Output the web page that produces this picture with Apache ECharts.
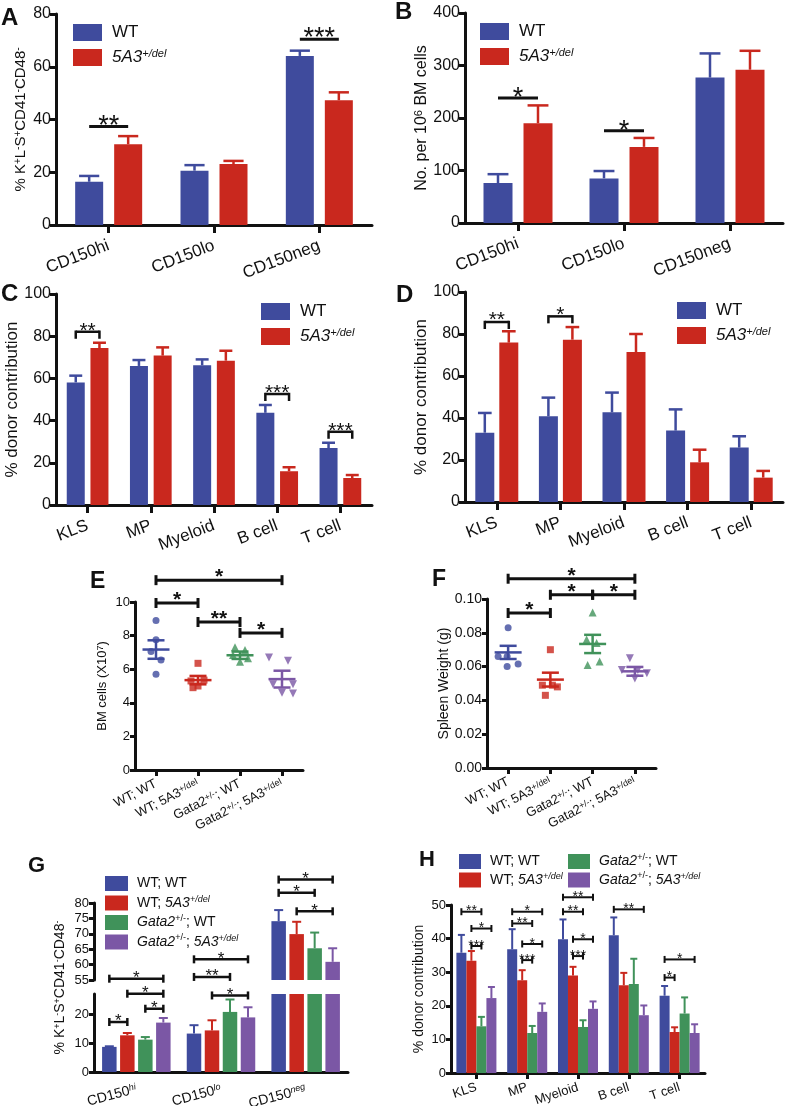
<!DOCTYPE html>
<html><head><meta charset="utf-8">
<script src="https://cdn.jsdelivr.net/npm/echarts@6/dist/echarts.min.js"></script>
<style>html,body{margin:0;padding:0;background:#fff}#c{width:787px;height:1106px}</style>
</head><body><div id="c"></div>
<script>
// ================= DATA =================
const catsAB = ['CD150hi', 'CD150lo', 'CD150neg'];
const aWT = [16.4, 20.6, 64.1];
const aWTsem = [2.2, 2.1, 2.0];
const aMut = [30.6, 23.1, 47.3];
const aMutSem = [3.1, 1.2, 3.0];
const aSig = [[0, 0, 0, 1, 37.3, '**'], [2, 0, 2, 1, 70.4, '***']];

const bWT = [76, 85, 277];
const bWTsem = [17, 14, 46];
const bMut = [190, 145, 292];
const bMutSem = [34, 17, 36];
const bSig = [[0, 0, 0, 1, 238, '*'], [1, 0, 1, 1, 175.7, '*']];

const catsCD = ['KLS', 'MP', 'Myeloid', 'B cell', 'T cell'];
const cWT = [58.1, 65.9, 66.2, 43.7, 27.0];
const cWTsem = [3.2, 2.8, 2.8, 3.7, 2.5];
const cMut = [74.4, 70.8, 68.4, 16.0, 12.8];
const cMutSem = [2.5, 3.9, 4.7, 1.9, 1.4];
const cSig = [[0, 0, 0, 1, 82.1, '**'], [3, 0, 3, 1, 52.6, '***'], [4, 0, 4, 1, 34.7, '***']];

const dWT = [33.0, 40.8, 42.7, 34.0, 25.9];
const dWTsem = [9.4, 8.9, 9.4, 10.1, 5.4];
const dMut = [75.9, 77.3, 71.4, 18.9, 11.6];
const dMutSem = [5.4, 6.0, 8.6, 6.0, 3.2];
const dSig = [[0, 0, 0, 1, 85.7, '**'], [1, 0, 1, 1, 88.4, '*']];

const catsEF = ['WT; WT', 'WT; 5A3+/del', 'Gata2+/-; WT', 'Gata2+/-; 5A3+/del'];
const ePts = [[8.9, 7.75, 7.05, 6.55, 5.7], [6.35, 5.3, 5.35, 5.0, 4.9], [7.3, 7.15, 6.85, 6.65, 6.45], [6.7, 6.5, 5.1, 5.1, 4.6, 4.55]];
const eMean = [7.17, 5.35, 6.83, 5.41];
const eSem = [0.55, 0.25, 0.22, 0.5];
const eSig = [[0, null, 3, null, 11.3, '*'], [0, null, 1, null, 9.94, '*'], [1, null, 2, null, 8.81, '**'], [2, null, 3, null, 8.16, '*']];

const fPts = [[0.083, 0.066, 0.066, 0.060, 0.0615], [0.070, 0.049, 0.049, 0.048, 0.043], [0.092, 0.076, 0.074, 0.061, 0.063], [0.065, 0.058, 0.058, 0.056, 0.053]];
const fMean = [0.0684, 0.0523, 0.0734, 0.0572];
const fSem = [0.0039, 0.0041, 0.0054, 0.0026];
const fSig = [[0, null, 3, null, 0.112, '*'], [0, null, 1, null, 0.0917, '*'], [1, null, 2, null, 0.1025, '*'], [2, null, 3, null, 0.1025, '*']];

const catsG = ['CD150hi', 'CD150lo', 'CD150neg'];
const gWTWT = [8.7, 13.3, 74.1];
const gWTWTsem = [0.2, 2.9, 3.6];
const gWTMut = [12.7, 14.4, 69.9];
const gWTMutSem = [0.8, 3.5, 4.0];
const gGataWT = [11.2, 20.8, 65.3];
const gGataWTsem = [0.9, 4.3, 5.1];
const gGataMut = [17.1, 18.9, 60.9];
const gGataMutSem = [1.6, 3.5, 4.4];
const gSigLow = [[0, 0, 0, 1, 17.3, '*'], [0, 2, 0, 3, 21.9, '*'], [0, 1, 0, 3, 27.1, '*'], [0, 0, 0, 3, 32.3, '*'],
                 [1, 0, 1, 3, 39.0, '*'], [1, 0, 1, 2, 32.9, '**'], [1, 1, 1, 3, 26.5, '*']];
const gSigHigh = [[2, 0, 2, 3, 87.6, '*'], [2, 0, 2, 2, 83.3, '*'], [2, 1, 2, 3, 77.3, '*']];

const catsH = ['KLS', 'MP', 'Myeloid', 'B cell', 'T cell'];
const hWTWT = [35.8, 36.8, 39.8, 41.0, 23.0];
const hWTWTsem = [5.3, 6.0, 5.9, 5.3, 2.9];
const hWTMut = [33.4, 27.6, 29.0, 26.1, 12.2];
const hWTMutSem = [2.9, 3.0, 2.6, 3.7, 1.4];
const hGataWT = [13.9, 11.9, 13.7, 26.5, 17.7];
const hGataWTsem = [2.8, 2.1, 2.0, 7.5, 4.8];
const hGataMut = [22.3, 18.2, 19.1, 17.2, 11.9];
const hGataMutSem = [3.3, 2.5, 2.2, 2.9, 2.6];
const hSig = [[0, 0, 0, 2, 48.0, '**'], [0, 1, 0, 3, 43.0, '*'], [0, 1, 0, 2, 37.8, '***'],
              [1, 0, 1, 3, 48.0, '*'], [1, 0, 1, 2, 44.5, '**'], [1, 1, 1, 3, 38.4, '*'], [1, 1, 1, 2, 33.6, '***'],
              [2, 0, 2, 3, 52.3, '**'], [2, 0, 2, 2, 48.0, '**'], [2, 1, 2, 3, 39.8, '*'], [2, 1, 2, 2, 34.8, '***'],
              [3, 0, 3, 3, 48.7, '**'],
              [4, 0, 4, 3, 33.8, '*'], [4, 0, 4, 1, 28.4, '*']];

// ================= STYLE (not data) =================
const ePtsJitter = [[0, 0, -5, 5, 0], [0, -7, 6, 0, -5], [-5, 5, -7, 8, 0], [-13, 6, -9, 11, 0, 11]];
const fPtsJitter = [[0, -10, -1, -1, 10], [0, -8, 2, 7, -5], [0, -6, 4, -5, 7], [-5, -13, 3, 12, 0]];

const FONT = '"Liberation Sans", Arial, Helvetica, sans-serif';
const INK = '#111111';
const BLUE = '#3f4b9d', RED = '#c9281e', GREEN = '#40925a', PURPLE = '#7b57a5';

function rich(fs) {
  const ss = Math.round(fs * 0.66);
  return {
    i: { fontStyle: 'italic', fontSize: fs, fontFamily: FONT, color: INK },
    s: { fontSize: ss, fontFamily: FONT, color: INK, verticalAlign: 'top' },
    si: { fontStyle: 'italic', fontSize: ss, fontFamily: FONT, color: INK, verticalAlign: 'top' }
  };
}

const grid = [], xAxis = [], yAxis = [], series = [], legend = [], graphic = [];

function addPanel(g, x, y) {
  grid.push(Object.assign({ containLabel: false, outerBoundsMode: 'none' }, g));
  const gi = grid.length - 1;
  xAxis.push(Object.assign({ gridIndex: gi }, x));
  yAxis.push(Object.assign({ gridIndex: gi }, y));
  return gi;
}
function xCat(cats, o) {
  const lw = o.lw == null ? 3 : o.lw;
  return {
    type: 'category', data: cats, boundaryGap: true, show: o.show !== false,
    axisLine: { show: true, onZero: false, lineStyle: { color: INK, width: lw } },
    axisTick: { show: o.tick !== false, alignWithLabel: true, inside: false, length: o.tl || 7, lineStyle: { color: INK, width: lw } },
    axisLabel: { show: o.label !== false, interval: 0, rotate: o.rot || 0, margin: o.margin || 8, color: INK,
      fontFamily: FONT, fontSize: o.fs || 16, formatter: o.fmt, rich: o.rich },
    splitLine: { show: false }, splitArea: { show: false }
  };
}
function yVal(o) {
  const lw = o.lw == null ? 3 : o.lw;
  const ax = {
    type: 'value', min: o.min, max: o.max, interval: o.iv,
    axisLine: { show: o.line !== false, onZero: false, lineStyle: { color: INK, width: lw } },
    axisTick: { show: o.tick !== false, length: o.tl || 6, lineStyle: { color: INK, width: lw } },
    axisLabel: { show: o.label !== false, margin: o.margin || 5, color: INK, fontFamily: FONT, fontSize: o.fs || 16, formatter: o.fmt },
    splitLine: { show: false },
    name: o.name || '', nameLocation: 'middle', nameGap: o.gap || 30, nameRotate: 90,
    nameTextStyle: { color: INK, fontFamily: FONT, fontSize: o.nfs || 16, rich: rich(o.nfs || 16) }
  };
  if (o.showMax === false) ax.axisLabel.showMaxLabel = false;
  return ax;
}
function barSeries(gi, name, color, vals, bw, gp) {
  return { type: 'bar', name, xAxisIndex: gi, yAxisIndex: gi, data: vals, barWidth: bw,
    barGap: (gp / bw * 100) + '%', itemStyle: { color }, clip: true, silent: true, z: 2 };
}
function errSeries(gi, vals, sem, idx, n, bw, gp, color, lw, capW, onlyCats) {
  const data = [];
  vals.forEach((v, k) => { if (!onlyCats || onlyCats.indexOf(k) >= 0) data.push([k, v, sem[k]]); });
  return { type: 'custom', xAxisIndex: gi, yAxisIndex: gi, data, z: 3, silent: true, clip: false,
    renderItem(params, api) {
      const k = api.value(0), v = api.value(1), e = api.value(2);
      const p0 = api.coord([k, v]), p1 = api.coord([k, v + e]);
      const x = p0[0] + (idx - (n - 1) / 2) * (bw + gp);
      return { type: 'group', children: [
        { type: 'line', shape: { x1: x, y1: p0[1], x2: x, y2: p1[1] }, style: { stroke: color, lineWidth: lw } },
        { type: 'line', shape: { x1: x - capW / 2, y1: p1[1], x2: x + capW / 2, y2: p1[1] }, style: { stroke: color, lineWidth: lw } }
      ] };
    } };
}
function sigSeries(gi, sig, o) {
  return { type: 'custom', xAxisIndex: gi, yAxisIndex: gi, data: sig.map(s => [s[0], s[4]]), z: 5, silent: true, clip: false,
    renderItem(params, api) {
      const s = sig[params.dataIndex];
      const off = j => (j == null ? 0 : (j - (o.n - 1) / 2) * (o.bw + o.gp));
      const pa = api.coord([s[0], s[4]]), pb = api.coord([s[2], s[4]]);
      const x1 = pa[0] + off(s[1]), x2 = pb[0] + off(s[3]), y = pa[1];
      const st = { stroke: INK, lineWidth: o.lw };
      const ch = [{ type: 'line', shape: { x1, y1: y, x2, y2: y }, style: st }];
      if (o.style === 'down') {
        ch.push({ type: 'line', shape: { x1, y1: y - o.lw / 2, x2: x1, y2: y + o.leg }, style: st });
        ch.push({ type: 'line', shape: { x1: x2, y1: y - o.lw / 2, x2, y2: y + o.leg }, style: st });
      } else if (o.style === 'ibeam') {
        ch.push({ type: 'line', shape: { x1, y1: y - o.leg, x2: x1, y2: y + o.leg }, style: st });
        ch.push({ type: 'line', shape: { x1: x2, y1: y - o.leg, x2, y2: y + o.leg }, style: st });
      }
      ch.push({ type: 'text', x: (x1 + x2) / 2, y: y - o.d + 0.24 * o.fs,
        style: { text: s[5], fontSize: o.fs, fontFamily: FONT, fontWeight: o.bold ? 'bold' : 'normal', fill: INK, align: 'center', verticalAlign: 'middle' } });
      return { type: 'group', children: ch };
    } };
}
function meanSeries(gi, means, sems, colors, mw, sw, lw) {
  return { type: 'custom', xAxisIndex: gi, yAxisIndex: gi, data: means.map((m, k) => [k, m, sems[k]]), z: 4, silent: true, clip: false,
    renderItem(params, api) {
      const k = api.value(0), m = api.value(1), e = api.value(2);
      const pm = api.coord([k, m]), pu = api.coord([k, m + e]), pl = api.coord([k, m - e]);
      const st = { stroke: colors[params.dataIndex], lineWidth: lw };
      const x = pm[0];
      return { type: 'group', children: [
        { type: 'line', shape: { x1: x - mw / 2, y1: pm[1], x2: x + mw / 2, y2: pm[1] }, style: st },
        { type: 'line', shape: { x1: x, y1: pu[1], x2: x, y2: pl[1] }, style: st },
        { type: 'line', shape: { x1: x - sw / 2, y1: pu[1], x2: x + sw / 2, y2: pu[1] }, style: st },
        { type: 'line', shape: { x1: x - sw / 2, y1: pl[1], x2: x + sw / 2, y2: pl[1] }, style: st }
      ] };
    } };
}
function twoGroupPanel(g, cats, wt, wtS, mut, mutS, yo, xo, bw, gp, sig, so) {
  const gi = addPanel(g, xCat(cats, xo), yVal(yo));
  series.push(barSeries(gi, 'WT', BLUE, wt, bw, gp));
  series.push(barSeries(gi, '5A3', RED, mut, bw, gp));
  series.push(errSeries(gi, wt, wtS, 0, 2, bw, gp, BLUE, 2.5, bw * 0.72));
  series.push(errSeries(gi, mut, mutS, 1, 2, bw, gp, RED, 2.5, bw * 0.72));
  series.push(sigSeries(gi, sig, Object.assign({ n: 2, bw, gp }, so)));
  return gi;
}
const legendAB = (left, top) => ({
  left, top, orient: 'vertical', icon: 'rect', itemWidth: 29, itemHeight: 17, itemGap: 6, selectedMode: false,
  data: ['WT', '5A3'], itemStyle: { borderWidth: 0 },
  formatter: n => (n === '5A3' ? '{i|5A3}{si|+/del}' : n),
  textStyle: { fontFamily: FONT, fontSize: 17, color: INK, lineHeight: 19, padding: [0, 0, 0, 5], rich: rich(17) }
});
const xAB = { rot: 21, fs: 17, margin: 20, tl: 8 };

// ---------- Panel A ----------
twoGroupPanel({ left: 56, top: 14, width: 316, height: 211 }, catsAB, aWT, aWTsem, aMut, aMutSem,
  { min: 0, max: 80, iv: 20, fs: 16, name: '% K{s|+}L{s|-}S{s|+}CD41{s|-}CD48{s|-}', nfs: 15, gap: 28 },
  xAB, 28, 11, aSig, { style: 'plain', lw: 3, fs: 27, d: 7 });
legend.push(legendAB(68, 18));
// ---------- Panel B ----------
twoGroupPanel({ left: 465, top: 13, width: 318, height: 210 }, catsAB, bWT, bWTsem, bMut, bMutSem,
  { min: 0, max: 400, iv: 100, fs: 16, name: 'No. per 10{s|6} BM cells', nfs: 16, gap: 30 },
  xAB, 29, 11, bSig, { style: 'plain', lw: 3, fs: 27, d: 6 });
legend.push(legendAB(475, 17));
// ---------- Panel C ----------
twoGroupPanel({ left: 56, top: 294, width: 316, height: 211 }, catsCD, cWT, cWTsem, cMut, cMutSem,
  { min: 0, max: 100, iv: 20, fs: 16, name: '% donor contribution', nfs: 17, gap: 33 },
  xAB, 18, 5.7, cSig, { style: 'down', leg: 7, lw: 2.5, fs: 21, d: 5.5 });
legend.push(legendAB(256, 297));
// ---------- Panel D ----------
twoGroupPanel({ left: 465, top: 292, width: 318, height: 210 }, catsCD, dWT, dWTsem, dMut, dMutSem,
  { min: 0, max: 100, iv: 20, fs: 16, name: '% donor contribution', nfs: 17, gap: 28 },
  xAB, 19, 5, dSig, { style: 'down', leg: 7, lw: 2.5, fs: 21, d: 6.5 });
legend.push(legendAB(672, 296));

// ---------- Panels E & F ----------
const efLabel = s => s.replace('+/del', '{s|+/del}').replace('+/-', '{s|+/-}');
const grpColors = [BLUE, RED, GREEN, PURPLE];
const grpSymbols = ['circle', 'rect', 'triangle', 'triangle'];
const grpRot = [0, 0, 0, 180];
function scatterPanel(g, pts, jit, means, sems, yo, sig, tag, sizes) {
  const gi = addPanel(g, xCat(catsEF, { rot: 27, fs: 13, margin: 13, tl: 6, fmt: efLabel, rich: rich(13) }), yVal(yo));
  pts.forEach((arr, k) => {
    series.push({ type: 'scatter', name: tag + k, xAxisIndex: gi, yAxisIndex: gi, silent: true, z: 3,
      symbol: grpSymbols[k], symbolRotate: grpRot[k], symbolSize: sizes[k], itemStyle: { color: grpColors[k] },
      data: arr.map((v, j) => ({ value: [k, v], symbolOffset: [jit[k][j], 0] })) });
  });
  series.push(meanSeries(gi, means, sems, grpColors, 27, 17, 2.5));
  series.push(sigSeries(gi, sig, { n: 1, bw: 0, gp: 0, style: 'ibeam', leg: 5, lw: 3, fs: 21, d: 8, bold: true }));
}
scatterPanel({ left: 135, top: 602, width: 168, height: 168 }, ePts, ePtsJitter, eMean, eSem,
  { min: 0, max: 10, iv: 2, fs: 13, tl: 5, name: 'BM cells (X10{s|7})', nfs: 13, gap: 26 }, eSig, 'E', [7, 7, 8, 8]);
scatterPanel({ left: 487, top: 599, width: 169, height: 169 }, fPts, fPtsJitter, fMean, fSem,
  { min: 0, max: 0.1, iv: 0.02, fs: 14, tl: 5, fmt: v => v.toFixed(2), name: 'Spleen Weight (g)', nfs: 14, gap: 36 }, fSig, 'F', [7, 7, 8, 8]);

// ---------- Panel G (broken axis) ----------
const gNames = ['WT; WT', 'WT; 5A3', 'Gata2; WT', 'Gata2; 5A3'];
const gVals = [gWTWT, gWTMut, gGataWT, gGataMut];
const gSems = [gWTWTsem, gWTMutSem, gGataWTsem, gGataMutSem];
const GBW = 14.5, GGP = 3.5;
const gLow = addPanel({ left: 94, top: 994, width: 254, height: 78 },
  xCat(catsG, { rot: 15, fs: 14, margin: 17, tick: false, fmt: s => s.replace('hi', '{si|hi}').replace('lo', '{si|lo}').replace('neg', '{si|neg}'), rich: rich(14) }),
  yVal({ min: 0, max: 27, iv: 10, fs: 13, tl: 5, showMax: false }));
const gHigh = addPanel({ left: 94, top: 903, width: 254, height: 77 },
  xCat(catsG, { show: false }), yVal({ min: 55, max: 80, iv: 5, fs: 13, tl: 5 }));
addPanel({ left: 94, top: 903, width: 254, height: 169 }, xCat(catsG, { show: false }),
  yVal({ min: 0, max: 1, line: false, tick: false, label: false, name: '% K{s|+}L{s|-}S{s|+}CD41{s|-}CD48{s|-}', nfs: 14, gap: 27 }));
gVals.forEach((vals, i) => {
  series.push(barSeries(gLow, gNames[i], grpColors[i], vals, GBW, GGP));
  series.push(barSeries(gHigh, gNames[i], grpColors[i], vals.map((v, k) => (k === 2 ? v : null)), GBW, GGP));
  series.push(errSeries(gLow, vals, gSems[i], i, 4, GBW, GGP, grpColors[i], 2, 9, [0, 1]));
  series.push(errSeries(gHigh, vals, gSems[i], i, 4, GBW, GGP, grpColors[i], 2, 9, [2]));
});
series.push(sigSeries(gLow, gSigLow, { n: 4, bw: GBW, gp: GGP, style: 'ibeam', leg: 4, lw: 2.5, fs: 17, d: 4.5 }));
series.push(sigSeries(gHigh, gSigHigh, { n: 4, bw: GBW, gp: GGP, style: 'ibeam', leg: 4, lw: 2.5, fs: 17, d: 4.5 }));

const ghFmt = n => ({
  'WT; WT': 'WT; WT', 'WT; 5A3': 'WT; {i|5A3}{si|+/del}',
  'Gata2; WT': '{i|Gata2}{s|+/-}; WT', 'Gata2; 5A3': '{i|Gata2}{s|+/-}; {i|5A3}{si|+/del}'
})[n];
legend.push({ left: 100, top: 870, orient: 'vertical', icon: 'rect', itemWidth: 23, itemHeight: 15, itemGap: 2.5, selectedMode: false,
  data: gNames, formatter: ghFmt, itemStyle: { borderWidth: 0 },
  textStyle: { fontFamily: FONT, fontSize: 14, color: INK, lineHeight: 17, padding: [0, 0, 0, 4], rich: rich(14) } });

// ---------- Panel H ----------
const hVals = [hWTWT, hWTMut, hGataWT, hGataMut];
const hSems = [hWTWTsem, hWTMutSem, hGataWTsem, hGataMutSem];
const HBW = 10, HGP = 0.01;
const gH = addPanel({ left: 451, top: 905, width: 254, height: 168 },
  xCat(catsH, { rot: 18, fs: 13, margin: 14, tl: 6 }),
  yVal({ min: 0, max: 50, iv: 10, fs: 13, tl: 5, name: '% donor contribution', nfs: 14, gap: 25 }));
hVals.forEach((vals, i) => {
  series.push(barSeries(gH, gNames[i], grpColors[i], vals, HBW, HGP));
  series.push(errSeries(gH, vals, hSems[i], i, 4, HBW, HGP, grpColors[i], 2, 7));
});
series.push(sigSeries(gH, hSig, { n: 4, bw: HBW, gp: HGP, style: 'ibeam', leg: 3.5, lw: 2, fs: 14, d: 3.5 }));
legend.push({ left: 454, top: 848, orient: 'vertical', icon: 'rect', itemWidth: 22, itemHeight: 15, itemGap: 1.5, selectedMode: false,
  data: ['WT; WT', 'WT; 5A3'], formatter: ghFmt, itemStyle: { borderWidth: 0 },
  textStyle: { fontFamily: FONT, fontSize: 14, color: INK, lineHeight: 17, padding: [0, 0, 0, 4], rich: rich(14) } });
legend.push({ left: 563, top: 848, orient: 'vertical', icon: 'rect', itemWidth: 22, itemHeight: 15, itemGap: 1.5, selectedMode: false,
  data: ['Gata2; WT', 'Gata2; 5A3'], formatter: ghFmt, itemStyle: { borderWidth: 0 },
  textStyle: { fontFamily: FONT, fontSize: 14, color: INK, lineHeight: 17, padding: [0, 0, 0, 4], rich: rich(14) } });

// ---------- Panel letters ----------
[['A', 1, 6, 24], ['B', 395, 0, 24], ['C', 1, 282, 24], ['D', 396, 283, 24],
 ['E', 90, 570, 23], ['F', 432, 568, 23], ['G', 28, 855, 22], ['H', 419, 849, 22]].forEach(t => {
  graphic.push({ type: 'text', left: t[1], top: t[2], silent: true,
    style: { text: t[0], fontSize: t[3], fontWeight: 'bold', fontFamily: FONT, fill: INK } });
});

const chart = echarts.init(document.getElementById('c'), null, { renderer: 'canvas', width: 787, height: 1106 });
chart.setOption({
  backgroundColor: '#ffffff', animation: false, textStyle: { fontFamily: FONT },
  grid, xAxis, yAxis, series, legend, graphic
});
</script>
</body></html>
